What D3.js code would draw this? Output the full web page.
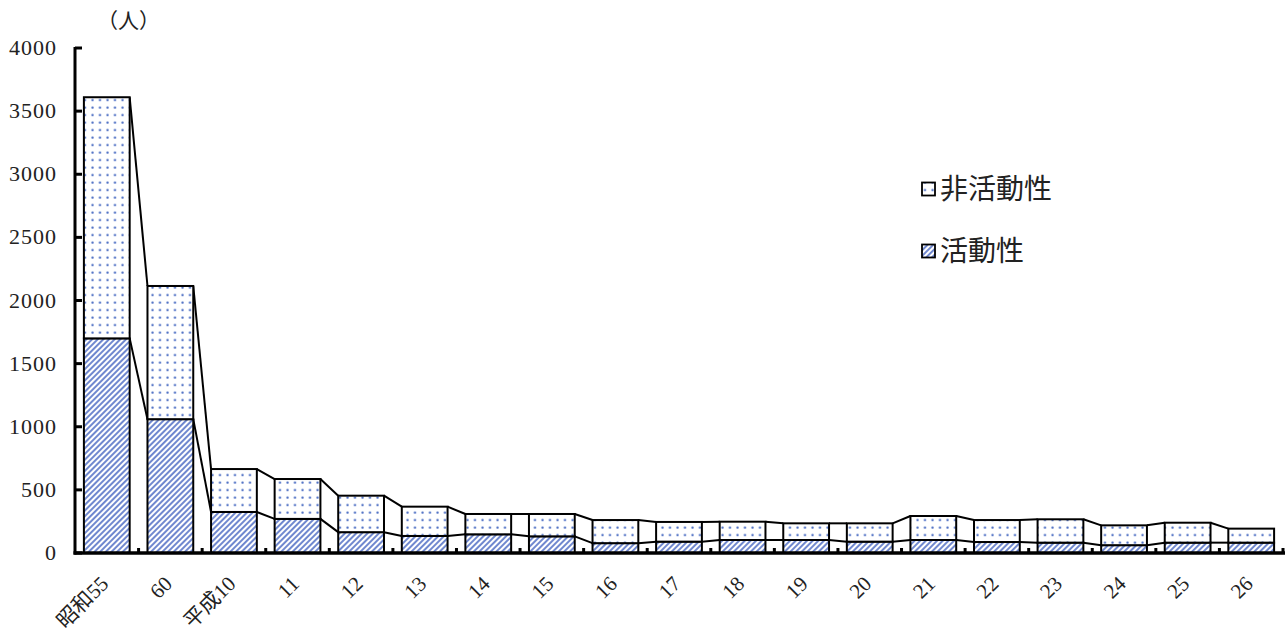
<!DOCTYPE html>
<html><head><meta charset="utf-8">
<script src="https://cdn.jsdelivr.net/npm/d3@7"></script>
<style>body{margin:0;background:#fff}svg{display:block}</style>
</head><body>
<svg id="c" width="1288" height="633"></svg>
<script>
const categories = ["昭和55","60","平成10","11","12","13","14","15","16","17","18","19","20","21","22","23","24","25","26"];
const active   = [1700,1060,325,270,165,135,148,132,78,90,103,103,90,103,87,82,62,82,82];
const inactive = [1910,1055,340,316,289,232,161,177,183,156,145,132,145,190,174,185,157,158,111];
const yTicks = [0,500,1000,1500,2000,2500,3000,3500,4000];
const seriesNames = ["活動性","非活動性"];

const svg = d3.select("#c");
const defs = svg.append("defs");
const dots = defs.append("pattern").attr("id","dots").attr("patternUnits","userSpaceOnUse")
  .attr("width",7.5).attr("height",7.5);
dots.append("rect").attr("width",7.5).attr("height",7.5).attr("fill","#fff");
dots.append("circle").attr("cx",2.5).attr("cy",2.5).attr("r",1.2).attr("fill","#4d6fc4");
const stripes = defs.append("pattern").attr("id","stripes").attr("patternUnits","userSpaceOnUse")
  .attr("width",4).attr("height",4).attr("patternTransform","rotate(45)");
stripes.append("rect").attr("width",4).attr("height",4).attr("fill","#fff");
stripes.append("rect").attr("x",0).attr("width",2).attr("height",4).attr("fill","#7088cf");

const x = d3.scaleBand().domain(categories).range([75,1283]).paddingInner(0.28).paddingOuter(0.14);
const xb = d3.scaleBand().domain(categories).range([75,1283]).padding(0);
const y = d3.scaleLinear().domain([0,4000]).range([553,48]);

const totals = categories.map((c,i)=>active[i]+inactive[i]);

// connecting lines
const g = svg.append("g");
for (let i=0;i<categories.length-1;i++){
  const x1 = x(categories[i])+x.bandwidth(), x2 = x(categories[i+1]);
  [active[i], totals[i]].forEach((v,k)=>{
    const v2 = k===0? active[i+1] : totals[i+1];
    g.append("line").attr("x1",x1).attr("x2",x2).attr("y1",y(v)).attr("y2",y(v2))
      .attr("stroke","#000").attr("stroke-width",2);
  });
}
// bars
categories.forEach((c,i)=>{
  g.append("rect").attr("x",x(c)).attr("width",x.bandwidth())
    .attr("y",y(active[i])).attr("height",y(0)-y(active[i]))
    .attr("fill","url(#stripes)").attr("stroke","#000").attr("stroke-width",2);
  g.append("rect").attr("x",x(c)).attr("width",x.bandwidth())
    .attr("y",y(totals[i])).attr("height",y(active[i])-y(totals[i]))
    .attr("fill","url(#dots)").attr("stroke","#000").attr("stroke-width",2);
});

// y axis
const ya = svg.append("g");
ya.append("line").attr("x1",75).attr("x2",75).attr("y1",y(4000)-1).attr("y2",y(0)+1.5)
  .attr("stroke","#000").attr("stroke-width",3);
yTicks.forEach(t=>{
  ya.append("line").attr("x1",75).attr("x2",82).attr("y1",y(t)).attr("y2",y(t))
    .attr("stroke","#000").attr("stroke-width",3);
  ya.append("text").attr("x",57).attr("y",y(t)+7).attr("text-anchor","end")
    .attr("font-family","Liberation Serif, serif").attr("font-size",22)
    .attr("letter-spacing",1).attr("fill","#222").text(t);
});
svg.append("text").attr("x",97).attr("y",28).attr("font-family","Noto Sans CJK JP")
  .attr("font-size",21).attr("fill","#222").text("（人）");

// x axis
const xa = svg.append("g");
xa.append("line").attr("x1",73.5).attr("x2",1285).attr("y1",553).attr("y2",553)
  .attr("stroke","#000").attr("stroke-width",3.5);
categories.forEach((c,i)=>{
  const bx = xb(c)+xb.bandwidth();
  xa.append("rect").attr("x",bx-1.5).attr("width",3).attr("y",548).attr("height",5).attr("fill","#000");
  const cx = xb(c)+xb.bandwidth()/2+3;
  xa.append("text").attr("transform",`translate(${cx},${585}) rotate(-45)`)
    .attr("text-anchor","end").attr("font-family","Liberation Serif, Noto Sans CJK JP, serif")
    .attr("font-size",21).attr("fill","#222").text(c);
});

// legend
const leg = svg.append("g");
[["非活動性","url(#dots)",189],["活動性","url(#stripes)",251]].forEach(([t,f,cy])=>{
  leg.append("rect").attr("x",922).attr("y",cy-6.5).attr("width",13).attr("height",13)
    .attr("fill",f).attr("stroke","#000").attr("stroke-width",1.8);
  leg.append("text").attr("x",940).attr("y",cy+10).attr("font-family","Noto Sans CJK JP")
    .attr("font-size",28).attr("fill","#222").text(t);
});
</script>
</body></html>
